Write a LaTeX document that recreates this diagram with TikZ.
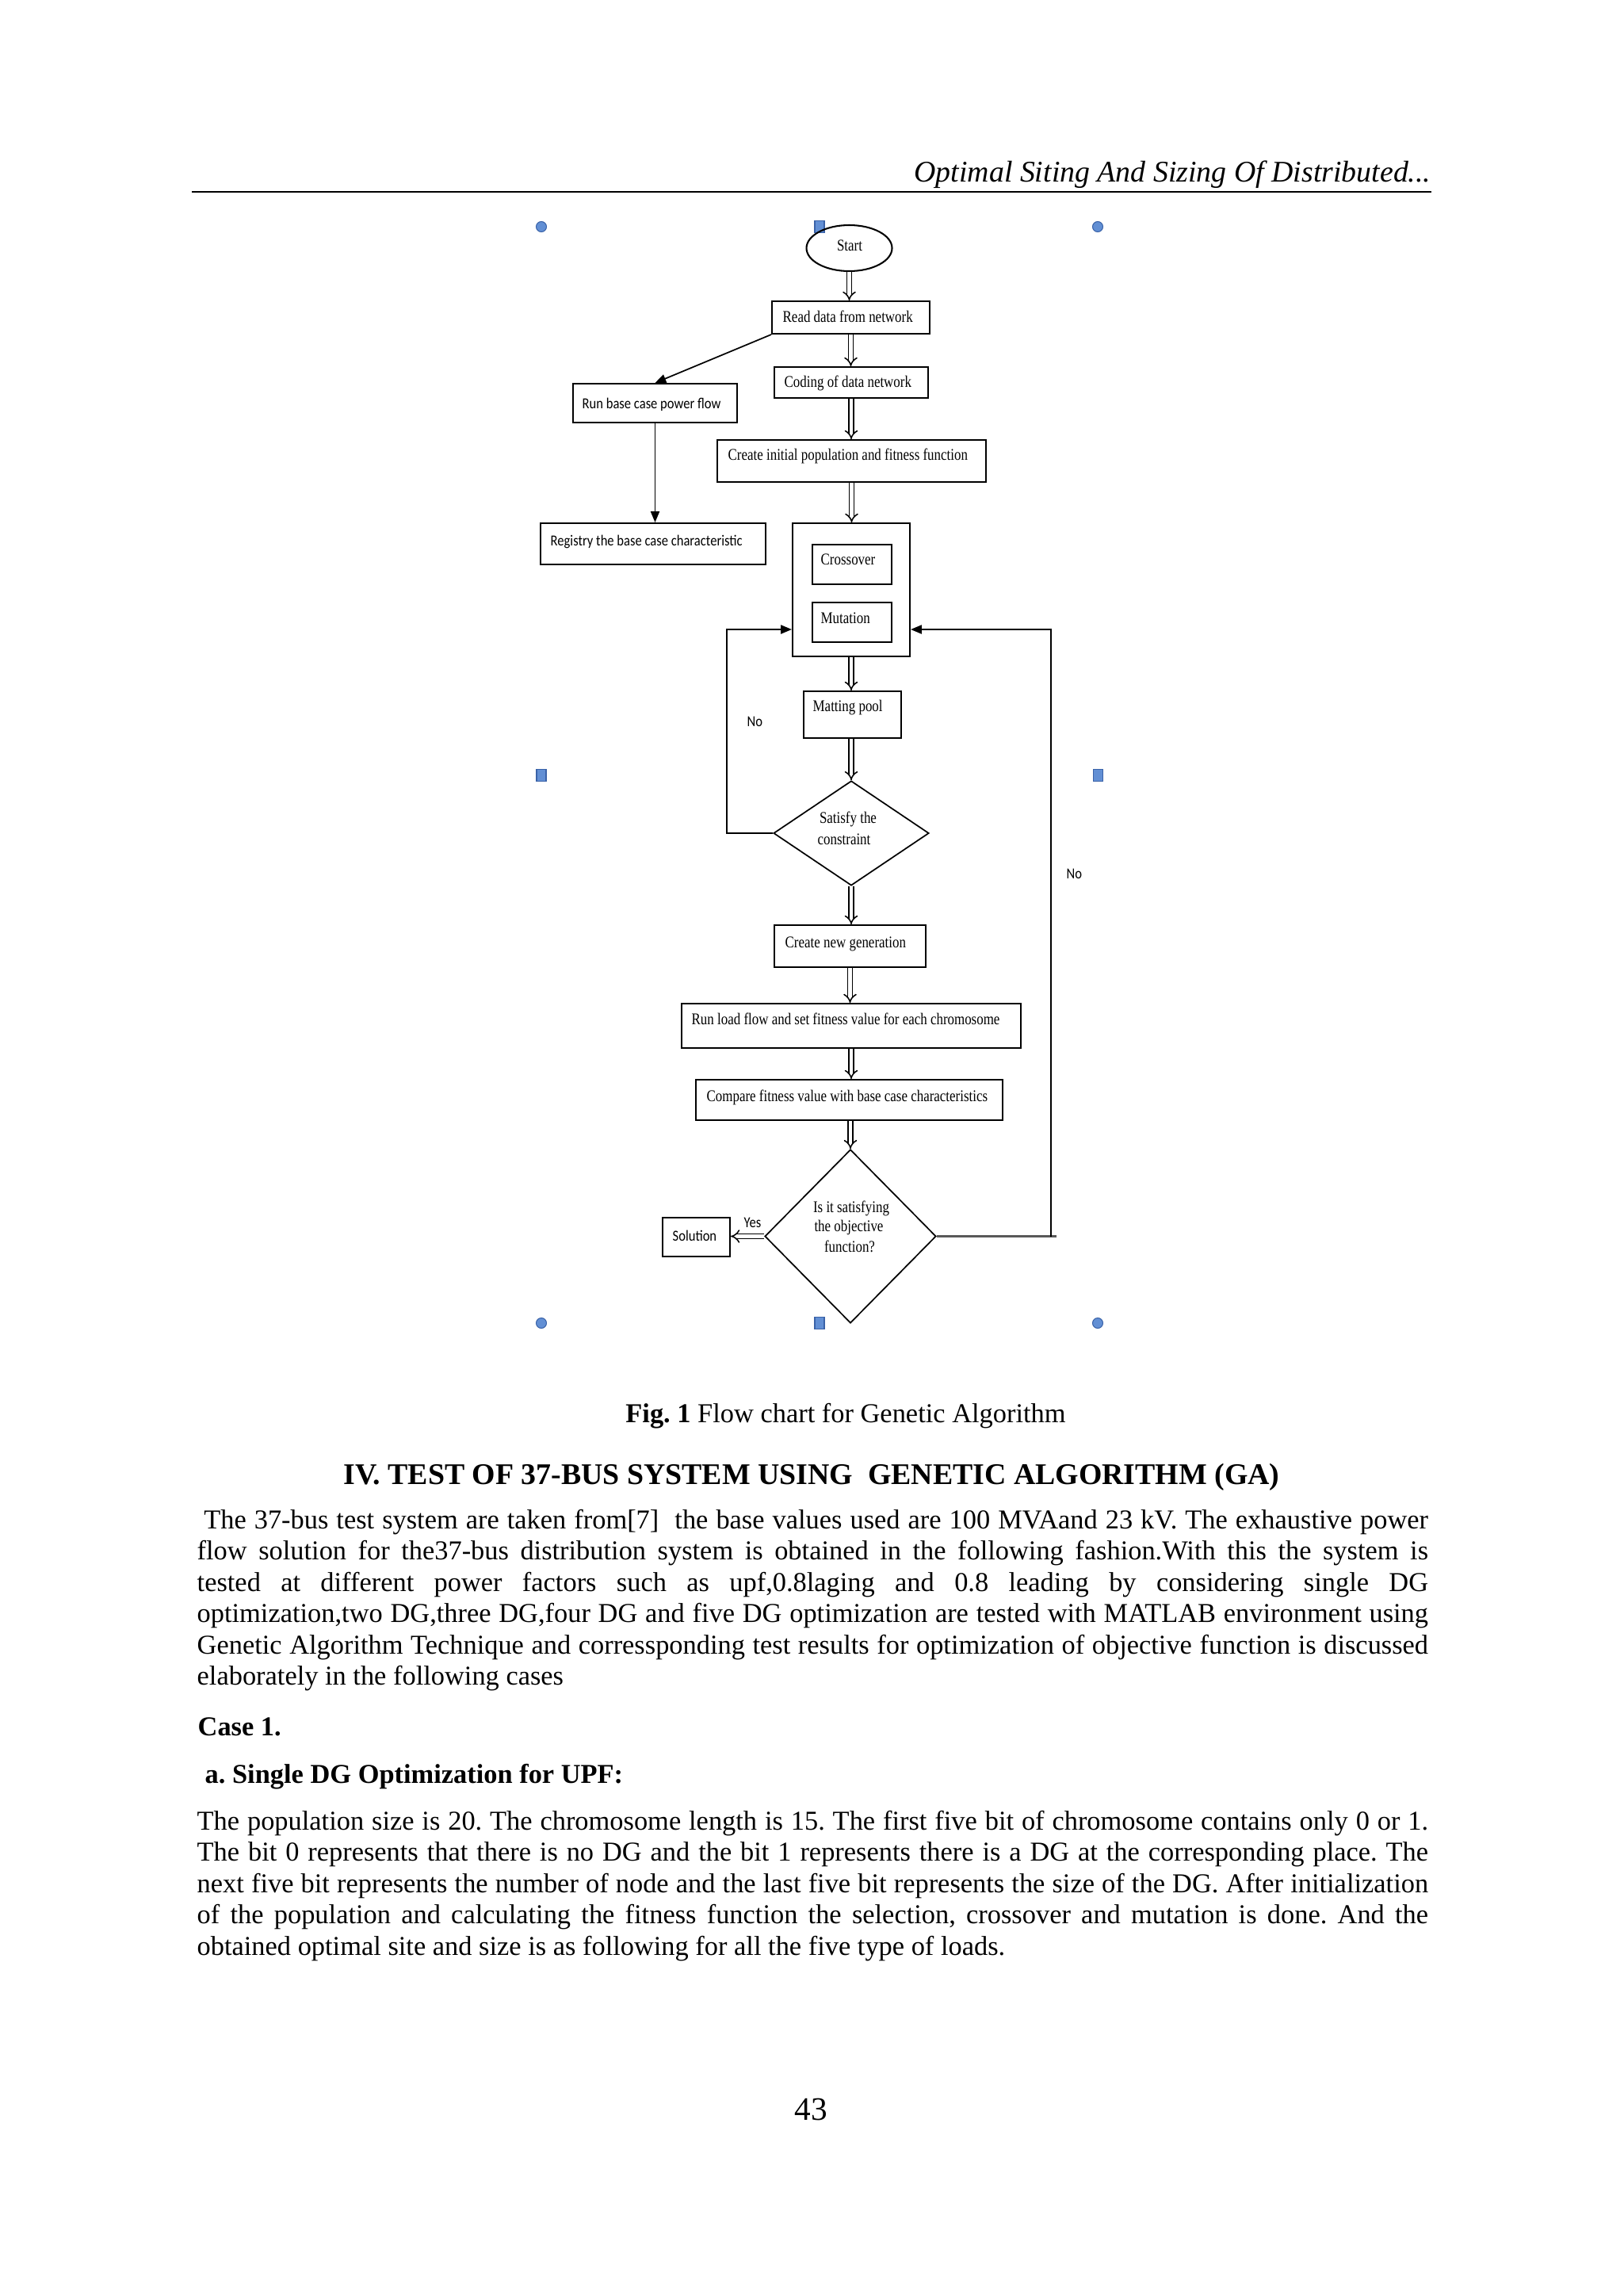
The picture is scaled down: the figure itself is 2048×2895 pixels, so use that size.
\documentclass[tikz,border=0pt]{standalone}
\usepackage{fontspec}
\usepackage{graphicx}
\setmainfont{Liberation Serif}
\newfontfamily\calib{Carlito}
\usetikzlibrary{shapes.geometric,arrows.meta}
\frenchspacing
\newdimen\px \px=0.290664pt
\definecolor{handlef}{RGB}{98,143,212}
\definecolor{handleb}{RGB}{58,98,168}
\newcommand\fcs[1]{\scalebox{0.82}[1]{\fontsize{6}{7}\selectfont #1}}
\newcommand\fcsans[1]{\scalebox{0.86}[1]{\calib\fontsize{5.6}{6.5}\selectfont #1}}
\newcommand\jline[1]{\makebox[451.5pt][s]{#1}\par}
\newcommand\lline[1]{\makebox[451.5pt][l]{#1}\par}
\tikzset{
  box/.style={draw, line width=0.6pt, rectangle, inner sep=0pt},
  dmd/.style={draw, line width=0.5pt, diamond, inner sep=0pt},
  dbl/.style={draw, double, double distance=1.2pt, line width=0.45pt, -{Implies}},
  sarrow/.style={draw, line width=0.5pt, -{Triangle[length=4pt,width=3.2pt]}},
  lab/.style={inner sep=0pt, anchor=base west},
  clab/.style={inner sep=0pt, anchor=base},
  handlec/.style={circle, draw=handleb, fill=handlef, line width=0.3pt, minimum size=13\px, inner sep=0pt},
  handles/.style={rectangle, draw=handleb, fill=handlef, line width=0.3pt, minimum width=12\px, minimum height=15\px, inner sep=0pt},
}
\begin{document}
\begin{tikzpicture}[x=0.290664pt, y=-0.290664pt]
\fill[white] (0,0) rectangle (2048,2895);
\useasboundingbox (0,0) rectangle (2048,2895);

% running header
\node[inner sep=0pt, anchor=base east] (hdr) at (1806,229) {\fontsize{11}{13}\selectfont\itshape Optimal Siting And Sizing Of Distributed...};
\draw[line width=0.6pt] (242,242) -- (1806,242);

% selection handles
\node[handlec] (h1) at (683,286) {};
\node[handles] (h2) at (1034,286) {};
\node[handlec] (h3) at (1385,286) {};
\node[handles] (h4) at (683,978) {};
\node[handles] (h5) at (1385,978) {};
\node[handlec] (h6) at (683,1669) {};
\node[handles] (h7) at (1034,1669) {};
\node[handlec] (h8) at (1385,1669) {};

% flowchart shapes
\node[draw, ellipse, line width=0.6pt, minimum width=108\px, minimum height=58\px, inner sep=0pt] (start) at (1071.5,313) {};
\node[box, minimum width=199\px, minimum height=41\px] (read) at (1073.5,400.5) {};
\node[box, minimum width=194\px, minimum height=39\px] (coding) at (1074,482.5) {};
\node[box, minimum width=207\px, minimum height=49\px] (runbase) at (826.5,508.5) {};
\node[box, minimum width=339\px, minimum height=53\px] (create) at (1074.5,581.5) {};
\node[box, minimum width=284\px, minimum height=52\px] (registry) at (824,686) {};
\node[box, minimum width=148\px, minimum height=168\px] (ga) at (1074,744) {};
\node[box, minimum width=100\px, minimum height=50\px] (cross) at (1075,712) {};
\node[box, minimum width=100\px, minimum height=50\px] (mut) at (1075,785) {};
\node[box, minimum width=123\px, minimum height=59\px] (matt) at (1075.5,901.5) {};
\node[dmd, minimum width=196\px, minimum height=132\px] (sat) at (1074,1051) {};
\node[box, minimum width=191\px, minimum height=53\px] (newgen) at (1072.5,1193.5) {};
\node[box, minimum width=428\px, minimum height=56\px] (runload) at (1074,1294) {};
\node[box, minimum width=387\px, minimum height=51\px] (compare) at (1071.5,1387.5) {};
\node[dmd, minimum width=216\px, minimum height=219\px] (obj) at (1073,1559.5) {};
\node[box, minimum width=85\px, minimum height=49\px] (sol) at (878.5,1560.5) {};

% texts
\node[clab] (tstart) at (1072,316) {\fcs{Start}};
\node[lab] (tread) at (987,406) {\fcs{Read data from network}};
\node[lab] (tcoding) at (989,488) {\fcs{Coding of data network}};
\node[lab] (tcreate) at (918,580) {\fcs{Create initial population and fitness function}};
\node[lab] (trunbase) at (734,515) {\fcsans{Run base case power flow}};
\node[lab] (tregistry) at (694,688) {\fcsans{Registry the base case characteristic}};
\node[lab] (tcross) at (1035,712) {\fcs{Crossover}};
\node[lab] (tmut) at (1035,786) {\fcs{Mutation}};
\node[lab] (tmatt) at (1025,897) {\fcs{Matting pool}};
\node[clab] (tsat1) at (1070,1038) {\fcs{Satisfy the}};
\node[clab] (tsat2) at (1065,1065) {\fcs{constraint}};
\node[lab] (tnewgen) at (990,1195) {\fcs{Create new generation}};
\node[lab] (trunload) at (872,1292) {\fcs{Run load flow and set fitness value for each chromosome}};
\node[lab] (tcompare) at (891,1389) {\fcs{Compare fitness value with base case characteristics}};
\node[clab] (tobj1) at (1074,1529) {\fcs{Is it satisfying}};
\node[clab] (tobj2) at (1071,1553) {\fcs{the objective}};
\node[clab] (tobj3) at (1072,1579) {\fcs{function?}};
\node[lab] (tsol) at (848,1565) {\fcsans{Solution}};
\node[lab] (tyes) at (938,1548) {\fcsans{Yes}};
\node[lab] (tno1) at (942,916) {\fcsans{No}};
\node[lab] (tno2) at (1345,1108) {\fcsans{No}};

% double (hollow) arrows
\draw[dbl] (start.south) -- (start.south |- read.north);
\draw[dbl] (read.south) -- (read.south |- coding.north);
\draw[dbl] (coding.south) -- (coding.south |- create.north);
\draw[dbl] (create.south) -- (create.south |- ga.north);
\draw[dbl] (ga.south) -- (ga.south |- matt.north);
\draw[dbl] (matt.south -| sat.north) -- (sat.north);
\draw[dbl] (sat.south) -- (sat.south |- newgen.north);
\draw[dbl] (newgen.south) -- (newgen.south |- runload.north);
\draw[dbl] (runload.south) -- (runload.south |- compare.north);
\draw[dbl] (compare.south -| obj.north) -- (obj.north);
\draw[dbl] (obj.west) -- (obj.west -| sol.east);

% single arrows
\draw[sarrow] (read.south west) -- (runbase.north);
\draw[sarrow] (runbase.south) -- (runbase.south |- registry.north);
\coordinate (lp) at (917,794);
\draw[sarrow] (sat.west) -| (lp) -- (lp -| ga.west);
\coordinate (rp) at (1326,794);
\coordinate (rend) at (1333,1559.5);
\draw[line width=0.9pt, black!65] (obj.east) -- (obj.east -| rend);
\draw[sarrow] (rp |- obj.east) -- (rp) -- (rp -| ga.east);

% caption and section
\node[clab] (cap) at (1067,1794) {\fontsize{10}{12}\selectfont\textbf{Fig. 1} Flow chart for Genetic Algorithm};
\node[clab] (sec) at (1024,1872) {\fontsize{11}{13}\selectfont\bfseries IV. TEST OF 37-BUS SYSTEM USING\ \ GENETIC ALGORITHM (GA)};

% paragraph 1
\node[lab] (par1) at (248,1928) {\parbox[t]{451.5pt}{\fontsize{10}{11.5}\selectfont\parindent=0pt\parskip=0pt
\jline{\hspace*{2.5pt}The 37-bus test system are taken from[7]\ \ the base values used are 100 MVAand 23 kV. The exhaustive power}
\jline{flow solution for the37-bus distribution system is obtained in the following fashion.With this the system is}
\jline{tested at different power factors such as upf,0.8laging and 0.8 leading by considering single DG}
\jline{optimization,two DG,three DG,four DG and five DG optimization are tested with MATLAB environment using}
\jline{Genetic Algorithm Technique and corressponding test results for optimization of objective function is discussed}
\lline{elaborately in the following cases}}};

\node[lab] (case1) at (249,2189) {\fontsize{10}{12}\selectfont\bfseries Case 1.};
\node[lab] (suba) at (258,2249) {\fontsize{10}{12}\selectfont\bfseries a. Single DG Optimization for UPF:};

% paragraph 2
\node[lab] (par2) at (248,2308) {\parbox[t]{451.5pt}{\fontsize{10}{11.5}\selectfont\parindent=0pt\parskip=0pt
\jline{The population size is 20. The chromosome length is 15. The first five bit of chromosome contains only 0 or 1.}
\jline{The bit 0 represents that there is no DG and the bit 1 represents there is a DG at the corresponding place. The}
\jline{next five bit represents the number of node and the last five bit represents the size of the DG. After initialization}
\jline{of the population and calculating the fitness function the selection, crossover and mutation is done. And the}
\lline{obtained optimal site and size is as following for all the five type of loads.}}};

\node[clab] (pgno) at (1023,2674) {\fontsize{12}{14}\selectfont 43};
\end{tikzpicture}
\end{document}
